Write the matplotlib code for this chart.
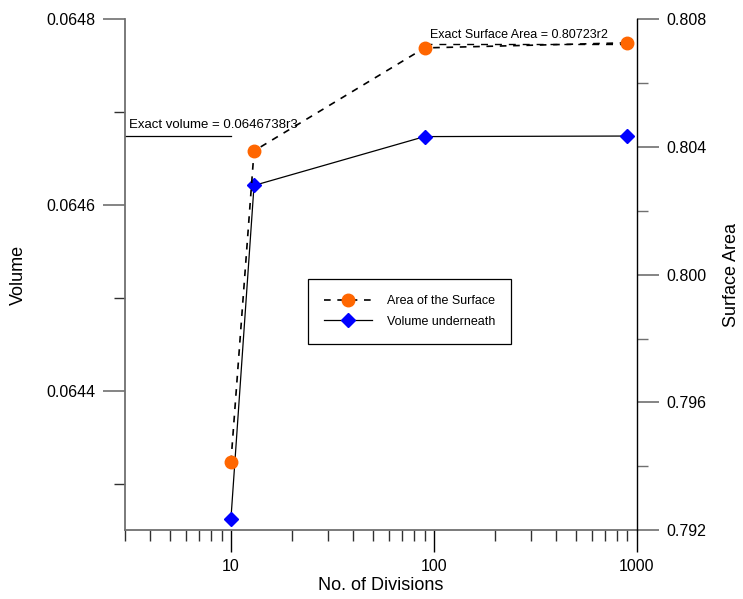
import numpy as np
import matplotlib.pyplot as plt
from matplotlib.ticker import FixedLocator, NullFormatter, LogLocator

plt.rcParams['font.family'] = ['Liberation Sans', 'DejaVu Sans']

# data
divisions = [10, 13, 90, 900]
volume = [0.064262, 0.064621, 0.0646736, 0.0646742]
area = [0.794125, 0.803875, 0.80710, 0.80726]
exact_volume = 0.0646738
exact_area = 0.80723

fig = plt.figure(figsize=(7.43, 5.99), dpi=100)
ax = fig.add_axes([0.168, 0.115, 0.689, 0.853])
ax2 = ax.twinx()

ax.set_xscale('log')
ax.set_xlim(3, 1000)
ax.set_ylim(0.06425, 0.0648)
ax2.set_ylim(0.792, 0.808)

# exact volume reference line
ax.plot([3, 10], [exact_volume, exact_volume], color='black', lw=0.9)
ax.text(3.15, exact_volume + 0.000006, 'Exact volume = 0.0646738r3', fontsize=9.5, va='bottom')

lv, = ax.plot(divisions, volume, color='black', lw=0.9, marker='D', ms=7,
              mfc='#0000ff', mec='#0000ff', label='Volume underneath', zorder=3)
ax2.plot([divisions[2], divisions[3]], [exact_area, exact_area], color='black', lw=1, ls=(0, (5, 5)))
la, = ax2.plot(divisions, area, color='black', lw=1.2, ls=(0, (4, 4)), marker='o', ms=9,
               mfc='#ff6600', mec='#ff6600', label='Area of the Surface', zorder=3)
ax2.text(96, exact_area + 0.0001, 'Exact Surface Area = 0.80723r2', fontsize=9, va='bottom')

# spines
ax.spines['top'].set_visible(False)
ax2.spines['top'].set_visible(False)
ax.spines['right'].set_visible(False)
for s in ['left', 'bottom']:
    ax.spines[s].set_color('#707070')
    ax.spines[s].set_linewidth(1.3)
ax2.spines['left'].set_visible(False)
ax2.spines['bottom'].set_visible(False)
ax2.spines['right'].set_color('black')
ax2.spines['right'].set_linewidth(1.0)

# ticks
ax.yaxis.set_major_locator(FixedLocator([0.0644, 0.0646, 0.0648]))
ax.yaxis.set_minor_locator(FixedLocator([0.0643, 0.0645, 0.0647]))
ax.set_yticklabels(['0.0644', '0.0646', '0.0648'])
ax.xaxis.set_major_locator(FixedLocator([10, 100, 1000]))
ax.xaxis.set_minor_locator(LogLocator(base=10, subs=np.arange(2, 10)))
ax.xaxis.set_minor_formatter(NullFormatter())
ax.set_xticklabels(['10', '100', '1000'])
ax.tick_params(axis='both', which='major', direction='out', length=16, width=1.2,
               color='#707070', labelsize=11.5, pad=5)
ax.tick_params(axis='x', which='major', color='black', width=1.0)
ax.tick_params(axis='both', which='minor', direction='out', length=8, width=1.0, color='#303030')

ax2.yaxis.set_major_locator(FixedLocator([0.792, 0.796, 0.800, 0.804, 0.808]))
ax2.yaxis.set_minor_locator(FixedLocator([0.794, 0.798, 0.802, 0.806]))
ax2.set_yticklabels(['0.792', '0.796', '0.800', '0.804', '0.808'])
ax2.tick_params(axis='y', which='major', direction='out', length=16, width=1.2,
                color='#707070', labelsize=11.5, pad=5)
ax2.tick_params(axis='y', which='minor', direction='out', length=8, width=1.0, color='#707070')

ax.set_xlabel('No. of Divisions', fontsize=13, labelpad=2)
ax.set_ylabel('Volume', fontsize=13, labelpad=14)
ax2.set_ylabel('Surface Area', fontsize=13, labelpad=12)

leg = ax.legend([la, lv], ['Area of the Surface', 'Volume underneath'],
                loc='upper left', bbox_to_anchor=(0.358, 0.492), fontsize=9,
                fancybox=False, framealpha=1, edgecolor='black', borderpad=1.3,
                handlelength=3.8, handletextpad=1.2, labelspacing=0.7, borderaxespad=0)
leg.get_frame().set_linewidth(0.9)
leg.set_zorder(5)

fig.savefig('out.png', dpi=100)
